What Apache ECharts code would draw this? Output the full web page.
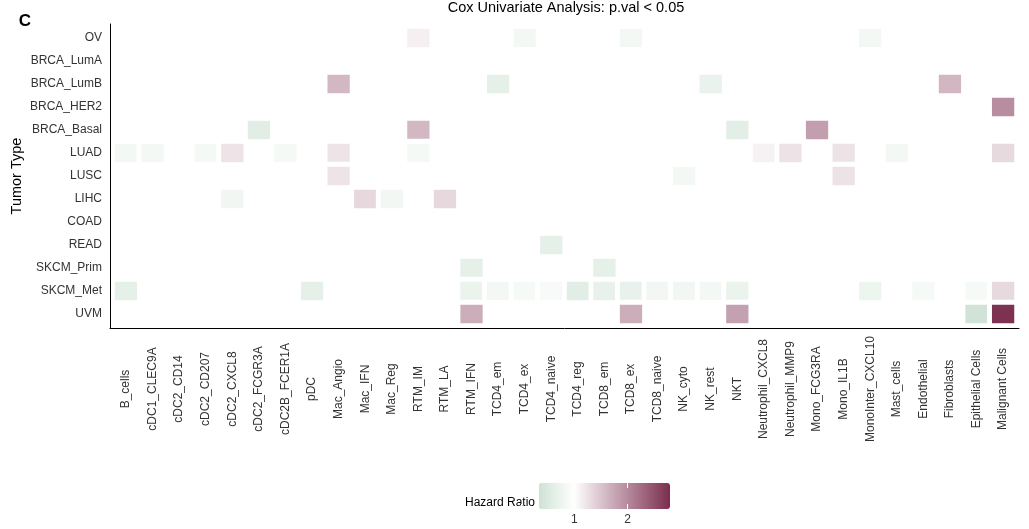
<!DOCTYPE html>
<html>
<head>
<meta charset="utf-8">
<script src="https://cdn.jsdelivr.net/npm/echarts@6/dist/echarts.min.js"></script>
<style>
  html, body { margin: 0; padding: 0; background: #fff; }
  #main { width: 1029px; height: 529px; }
</style>
</head>
<body>
<div id="main"></div>
<script>
// cell types (x) and tumor types (y, top to bottom)
var cellTypes = ['B_cells', 'cDC1_CLEC9A', 'cDC2_CD14', 'cDC2_CD207', 'cDC2_CXCL8', 'cDC2_FCGR3A',
  'cDC2B_FCER1A', 'pDC', 'Mac_Angio', 'Mac_IFN', 'Mac_Reg', 'RTM_IM', 'RTM_LA', 'RTM_IFN',
  'TCD4_em', 'TCD4_ex', 'TCD4_naive', 'TCD4_reg', 'TCD8_em', 'TCD8_ex', 'TCD8_naive',
  'NK_cyto', 'NK_rest', 'NKT', 'Neutrophil_CXCL8', 'Neutrophil_MMP9', 'Mono_FCG3RA',
  'Mono_IL1B', 'MonoInter_CXCL10', 'Mast_cells', 'Endothelial', 'Fibroblasts',
  'Epithelial Cells', 'Malignant Cells'];
var tumorTypes = ['OV', 'BRCA_LumA', 'BRCA_LumB', 'BRCA_HER2', 'BRCA_Basal', 'LUAD', 'LUSC',
  'LIHC', 'COAD', 'READ', 'SKCM_Prim', 'SKCM_Met', 'UVM'];

// significant hazard ratios: [cell type, tumor type, HR]
var hazardCells = [
  ['RTM_IM', 'OV', 1.14], ['TCD4_ex', 'OV', 0.84], ['TCD8_ex', 'OV', 0.84], ['MonoInter_CXCL10', 'OV', 0.84],
  ['Mac_Angio', 'BRCA_LumB', 1.61], ['TCD4_em', 'BRCA_LumB', 0.64], ['NK_rest', 'BRCA_LumB', 0.7], ['Fibroblasts', 'BRCA_LumB', 1.62],
  ['Malignant Cells', 'BRCA_HER2', 1.98],
  ['cDC2_FCGR3A', 'BRCA_Basal', 0.6], ['RTM_IM', 'BRCA_Basal', 1.61], ['NKT', 'BRCA_Basal', 0.62], ['Mono_FCG3RA', 'BRCA_Basal', 1.83],
  ['B_cells', 'LUAD', 0.84], ['cDC1_CLEC9A', 'LUAD', 0.84], ['cDC2_CD207', 'LUAD', 0.85], ['cDC2_CXCL8', 'LUAD', 1.23],
  ['cDC2B_FCER1A', 'LUAD', 0.85], ['Mac_Angio', 'LUAD', 1.23], ['RTM_IM', 'LUAD', 0.86], ['Neutrophil_CXCL8', 'LUAD', 1.12],
  ['Neutrophil_MMP9', 'LUAD', 1.24], ['Mono_IL1B', 'LUAD', 1.24], ['Mast_cells', 'LUAD', 0.84], ['Malignant Cells', 'LUAD', 1.32],
  ['Mac_Angio', 'LUSC', 1.23], ['NK_cyto', 'LUSC', 0.84], ['Mono_IL1B', 'LUSC', 1.24],
  ['cDC2_CXCL8', 'LIHC', 0.8], ['Mac_IFN', 'LIHC', 1.33], ['Mac_Reg', 'LIHC', 0.82], ['RTM_LA', 'LIHC', 1.33],
  ['TCD4_naive', 'READ', 0.65],
  ['RTM_IFN', 'SKCM_Prim', 0.64], ['TCD8_em', 'SKCM_Prim', 0.64],
  ['B_cells', 'SKCM_Met', 0.65], ['pDC', 'SKCM_Met', 0.65], ['RTM_IFN', 'SKCM_Met', 0.72], ['TCD4_em', 'SKCM_Met', 0.84],
  ['TCD4_ex', 'SKCM_Met', 0.88], ['TCD4_naive', 'SKCM_Met', 0.9], ['TCD4_reg', 'SKCM_Met', 0.6], ['TCD8_em', 'SKCM_Met', 0.68],
  ['TCD8_ex', 'SKCM_Met', 0.68], ['TCD8_naive', 'SKCM_Met', 0.82], ['NK_cyto', 'SKCM_Met', 0.82], ['NK_rest', 'SKCM_Met', 0.84],
  ['NKT', 'SKCM_Met', 0.72], ['MonoInter_CXCL10', 'SKCM_Met', 0.76], ['Endothelial', 'SKCM_Met', 0.88],
  ['Epithelial Cells', 'SKCM_Met', 0.88], ['Malignant Cells', 'SKCM_Met', 1.32],
  ['RTM_IFN', 'UVM', 1.7], ['TCD8_ex', 'UVM', 1.7], ['NKT', 'UVM', 1.81], ['Epithelial Cells', 'UVM', 0.36],
  ['Malignant Cells', 'UVM', 2.76]
];
var hrMin = 0.34, hrMax = 2.8;
var legendTicks = [0, 1, 2];

var font = '"Liberation Sans", Arial, Helvetica, sans-serif';

// green - white - maroon, white at HR = 1
var lowCol = [207, 226, 213], midCol = [255, 255, 255], highCol = [123, 45, 78];
function mix(a, b, t) {
  var c = [];
  for (var i = 0; i < 3; i++) c.push(Math.round(a[i] + (b[i] - a[i]) * t));
  return 'rgb(' + c.join(',') + ')';
}
function hrColor(v) {
  if (v < 1) return mix(midCol, lowCol, (1 - v) / (1 - hrMin));
  return mix(midCol, highCol, (v - 1) / (hrMax - 1));
}
var stops = [];
for (var i = 0; i <= 80; i++) stops.push(hrColor(hrMin + (hrMax - hrMin) * i / 80));

var myChart = echarts.init(document.getElementById('main'));
var option = {
  animation: false,
  backgroundColor: '#fff',
  textStyle: { fontFamily: font },
  grid: [
    { left: 112.7, top: 26.5, width: 903.7, height: 299, outerBoundsMode: 'none', containLabel: false },
    { left: 110, top: 24, width: 909, height: 304, outerBoundsMode: 'none' },
    { left: 521, top: 483, width: 149.2, height: 26, outerBoundsMode: 'none' }
  ],
  xAxis: [
    {
      type: 'category', gridIndex: 0, data: cellTypes,
      axisLine: { show: false },
      axisTick: { alignWithLabel: true, length: 6.5, lineStyle: { color: '#333' } },
      axisLabel: { interval: 0, rotate: 90, align: 'center', verticalAlign: 'middle', margin: 63.5,
        fontSize: 12, color: '#333', fontFamily: font },
      splitLine: { show: false }
    },
    {
      type: 'value', gridIndex: 1, min: 0, max: 1, z: 10,
      axisLine: { show: true, onZero: false, lineStyle: { color: '#000', width: 1 } },
      axisTick: { show: false }, axisLabel: { show: false }, splitLine: { show: false }
    },
    {
      type: 'value', gridIndex: 2, min: 0, max: hrMax, interval: 1, z: 10,
      axisLine: { show: false },
      axisTick: { show: true, inside: true, length: 5, lineStyle: { color: '#fff', width: 1 } },
      axisLabel: { show: true, margin: 5, fontSize: 12, color: '#333', fontFamily: font,
        formatter: function (v) { return legendTicks.indexOf(v) > 0 ? String(v) : ''; } },
      splitLine: { show: false }
    },
    {
      type: 'value', gridIndex: 2, position: 'top', min: 0, max: hrMax, interval: 1, z: 10,
      axisLine: { show: false },
      axisTick: { show: true, inside: true, length: 5, lineStyle: { color: '#fff', width: 1 } },
      axisLabel: { show: false }, splitLine: { show: false }
    }
  ],
  yAxis: [
    {
      type: 'category', gridIndex: 0, data: tumorTypes, inverse: true,
      axisLine: { show: false },
      axisTick: { alignWithLabel: true, length: 6.7, lineStyle: { color: '#333' } },
      axisLabel: { interval: 0, margin: 10.7, fontSize: 12, color: '#333', fontFamily: font },
      splitLine: { show: false }
    },
    {
      type: 'value', gridIndex: 1, min: 0, max: 1, z: 10,
      axisLine: { show: true, onZero: false, lineStyle: { color: '#000', width: 1 } },
      axisTick: { show: false }, axisLabel: { show: false }, splitLine: { show: false }
    },
    {
      type: 'value', gridIndex: 2, min: 0, max: 1, show: false
    }
  ],
  visualMap: {
    type: 'continuous', seriesIndex: 0, min: hrMin, max: hrMax,
    orient: 'horizontal', left: 539, top: 483, padding: 0,
    itemWidth: 26, itemHeight: 131, calculable: false, hoverLink: false,
    text: null, showLabel: false,
    inRange: { color: stops }
  },
  graphic: [
    { type: 'text', x: 566, y: 7.5, style: { text: 'Cox Univariate Analysis: p.val < 0.05',
      font: '14.5px ' + font, fill: '#000', align: 'center', verticalAlign: 'middle' } },
    { type: 'text', x: 25, y: 21, style: { text: 'C', font: 'bold 17px ' + font,
      fill: '#000', align: 'center', verticalAlign: 'middle' } },
    { type: 'text', x: 17, y: 176, rotation: Math.PI / 2, style: { text: 'Tumor Type',
      font: '14.5px ' + font, fill: '#000', align: 'center', verticalAlign: 'middle' } },
    { type: 'text', x: 535, y: 503, style: { text: 'Hazard Ratio', font: '12px ' + font,
      fill: '#000', align: 'right', verticalAlign: 'middle' } }
  ],
  series: [
    {
      type: 'heatmap', xAxisIndex: 0, yAxisIndex: 0,
      data: hazardCells,
      itemStyle: { borderColor: '#fff', borderWidth: 4.8 },
      emphasis: { disabled: true }
    }
  ]
};
myChart.setOption(option);
</script>
</body>
</html>
